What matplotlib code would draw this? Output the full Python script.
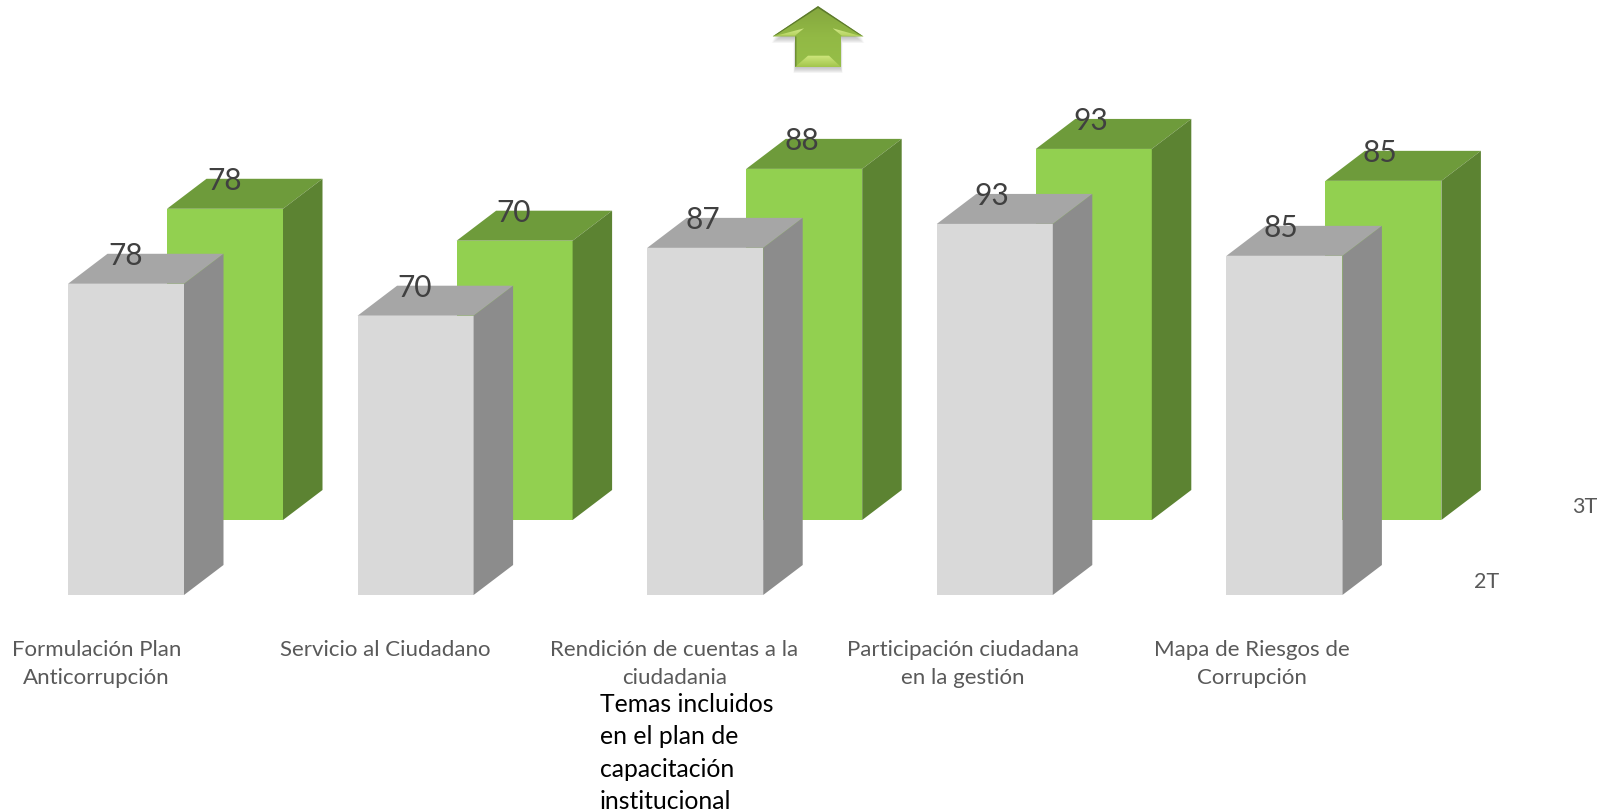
import matplotlib
matplotlib.use("Agg")
import matplotlib.pyplot as plt
from matplotlib.colors import LinearSegmentedColormap
from matplotlib.patches import Polygon
import numpy as np

plt.rcParams['font.family'] = ['Lato', 'DejaVu Sans']

temas = ["Formulación Plan\nAnticorrupción", "Servicio al Ciudadano",
         "Rendición de cuentas a la\nciudadania", "Participación ciudadana\nen la gestión",
         "Mapa de Riesgos de\nCorrupción"]
valores_2t = [78, 70, 87, 93, 85]
valores_3t = [78, 70, 88, 93, 85]
series = ["2T", "3T"]

W, H = 1613, 812
PX_X = 289.6   # pixeles por categoria
PX_Y = 3.99    # pixeles por unidad de valor
ANCHO = 116 / PX_X
PROF_X = 39.5 / PX_X
PROF_Y = 30 / PX_Y
# la serie de atras se desplaza hacia arriba y a la derecha
ATRAS_X = 99 / PX_X
ATRAS_Y = 75 / PX_Y


def barra(ax, i, x, base, valor, frente, tapa, lado):
    """dibuja una barra con aspecto 3D: cara frontal, tapa y costado"""
    izq, der = x - ANCHO / 2, x + ANCHO / 2
    sup = base + valor
    ax.add_patch(Polygon([(izq, base), (der, base), (der, sup), (izq, sup)], fc=frente, ec='none', zorder=3))
    ax.add_patch(Polygon([(izq, sup), (der, sup), (der + PROF_X, sup + PROF_Y), (izq + PROF_X, sup + PROF_Y)],
                         fc=tapa, ec='none', zorder=3))
    ax.add_patch(Polygon([(der, base), (der + PROF_X, base + PROF_Y), (der + PROF_X, sup + PROF_Y), (der, sup)],
                         fc=lado, ec='none', zorder=3))
    ax.text(x - (0.5 + 0.75 * i) / PX_X, sup + 28.5 / PX_Y, str(valor), ha='center', va='center', fontsize=21.5,
            color='#404040', zorder=6)


def degradado(ax, puntos, colores, z=2):
    """rellena un poligono con un degradado vertical (pixeles)"""
    xs = [p[0] for p in puntos]
    ys = [p[1] for p in puntos]
    grad = np.linspace(0, 1, 64).reshape(-1, 1)
    cmap = LinearSegmentedColormap.from_list('g', colores)
    im = ax.imshow(grad, extent=(min(xs), max(xs), max(ys), min(ys)), cmap=cmap, aspect='auto', zorder=z,
                   interpolation='bilinear')
    im.set_clip_path(Polygon(puntos, transform=ax.transData))


def flecha(fig):
    """flecha verde decorativa con biseles y sombra, en coordenadas de pixel"""
    ax = fig.add_axes([0, 0, 1, 1], zorder=5)
    contorno = [(818, 7.5), (863.5, 37.5), (841, 37.5), (841, 68), (795, 68), (795, 37.5), (772.5, 37.5)]
    # sombra difusa debajo de la flecha, casi sin salirse por los lados
    for grow in np.arange(6, 0, -1.0):
        lat = grow * 0.4
        sombra = [(818, 12), (862 + lat, 38 + grow), (840 + lat, 38 + grow), (840 + lat, 68 + grow),
                  (796 - lat, 68 + grow), (796 - lat, 38 + grow), (774 - lat, 38 + grow)]
        ax.add_patch(Polygon(sombra, fc='#666666', ec='none', alpha=0.07, zorder=1))
    degradado(ax, contorno, ['#84A63E', '#92B945', '#96BE48'])
    # borde oscuro fino en los dos lados de la punta
    ax.add_patch(Polygon([(818, 7), (772.5, 37.5), (778, 35), (818, 9)], fc='#5C7A2C', ec='none', zorder=3))
    ax.add_patch(Polygon([(818, 7), (863.5, 37.5), (858, 35), (818, 9)], fc='#5C7A2C', ec='none', zorder=3))
    # biseles claros
    degradado(ax, [(776, 36.7), (804, 29.3), (795, 36.7)], ['#D2E98A', '#B5D25F'], z=3)
    degradado(ax, [(832.7, 29.3), (841.7, 36.7), (861.7, 37.3)], ['#D2E98A', '#B5D25F'], z=3)
    degradado(ax, [(808, 56.7), (829, 56.7), (841, 68), (795, 68)], ['#D0E87E', '#A2C54C'], z=3)
    ax.add_patch(Polygon([(795, 37.5), (795, 68), (796.5, 67), (796.5, 37.5)], fc='#6F8F35', ec='none', zorder=4))
    ax.set_xlim(0, W)
    ax.set_ylim(H, 0)
    ax.axis('off')
    ax.patch.set_alpha(0)


fig = plt.figure(figsize=(W / 100, H / 100), dpi=100)
ax = fig.add_axes([0, 0, 1, 1])
ax.set_xlim(-126 / PX_X, (W - 126) / PX_X)
ax.set_ylim(-(H - 596) / PX_Y, 596 / PX_Y)
ax.axis('off')

x = np.arange(len(temas))

# primero la serie de atras para que la gris quede por delante
for i, v in enumerate(valores_3t):
    barra(ax, i, x[i] + ATRAS_X, ATRAS_Y, v, '#92D050', '#6E9B3B', '#5C8332')
for i, v in enumerate(valores_2t):
    barra(ax, i, x[i], 0, v, '#D9D9D9', '#A6A6A6', '#8C8C8C')

for i, t in enumerate(temas):
    ax.text(x[i] - (29.5 + 0.75 * i) / PX_X, -44.5 / PX_Y, t, ha='center', va='top', fontsize=16, color='#595959',
            linespacing=1.5)

ax.text(x[-1] + 202 / PX_X, -(582.5 - 596) / PX_Y, series[0], ha='center', va='center', fontsize=15.5, color='#595959')
ax.text(x[-1] + 300 / PX_X, -(507.5 - 596) / PX_Y, series[1], ha='center', va='center', fontsize=15.5, color='#595959')

fig.text(600 / W, 1 - 693 / H, "Temas incluidos\nen el plan de\ncapacitación\ninstitucional", ha='left', va='top',
         fontsize=17.8, color='black', linespacing=1.49)

flecha(fig)

fig.savefig("out.png", dpi=100, facecolor='white')
